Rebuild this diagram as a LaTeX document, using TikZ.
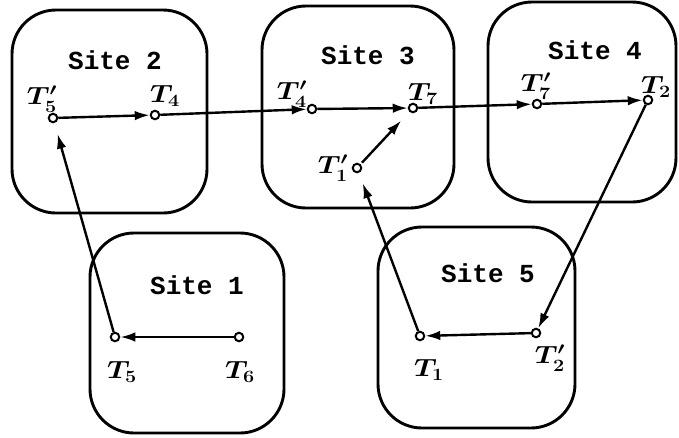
\documentclass[tikz,border=0pt]{standalone}
\usepackage{graphicx}
\usepackage{fontspec}
\newfontfamily\sitefont{Liberation Mono}
\usetikzlibrary{arrows.meta}
\newcommand\wlab[1]{\scalebox{1.15}[1]{#1}}
\tikzset{
  site/.style={draw, line width=2.9pt, rounded corners=44pt, inner sep=0pt},
  tpt/.style={draw, circle, line width=2pt, inner sep=0pt, minimum size=8.5pt, fill=white},
  lab/.style={inner sep=0pt, font=\fontsize{26}{30}\selectfont\boldmath},
  sname/.style={inner sep=0pt, font=\sitefont\bfseries\fontsize{26}{30}\selectfont},
  arr/.style={line width=2.4pt, -{Latex[length=15pt,width=9.5pt]}},
}
\begin{document}
\begin{tikzpicture}[x=1pt,y=-1pt]
\useasboundingbox (0,0) rectangle (679,437);
% sites
\node[site, minimum width=195pt, minimum height=203pt] (s2) at (109.5,111.5) {};
\node[site, minimum width=192pt, minimum height=202pt] (s3) at (358,107) {};
\node[site, minimum width=188pt, minimum height=200pt] (s4) at (582,102) {};
\node[site, minimum width=194pt, minimum height=200pt] (s1) at (187,333) {};
\node[site, minimum width=197pt, minimum height=201pt] (s5) at (476.5,327.5) {};
% site names
\node[sname] (n2) at (115,60) {Site 2};
\node[sname] (n3) at (368,55) {Site 3};
\node[sname] (n4) at (595,50) {Site 4};
\node[sname] (n1) at (197,285) {Site 1};
\node[sname] (n5) at (488,273) {Site 5};
% points
\node[tpt] (t5p) at (53,118) {};
\node[tpt] (t4) at (155,115) {};
\node[tpt] (t4p) at (312,109) {};
\node[tpt] (t7) at (413,108) {};
\node[tpt] (t1p) at (357,168) {};
\node[tpt] (t7p) at (537,104) {};
\node[tpt] (t2) at (648,100) {};
\node[tpt] (t5) at (115,337) {};
\node[tpt] (t6) at (239,337) {};
\node[tpt] (t1) at (420,336) {};
\node[tpt] (t2p) at (536,333) {};
% labels
\node[lab] (lt5p) at (42,99) {\wlab{$T_5'$}};
\node[lab] (lt4) at (165,96) {\wlab{$T_4$}};
\node[lab] (lt4p) at (292,94) {\wlab{$T_4'$}};
\node[lab] (lt7) at (423,94) {\wlab{$T_7$}};
\node[lab] (lt1p) at (333,168) {\wlab{$T_1'$}};
\node[lab] (lt7p) at (536,86) {\wlab{$T_7'$}};
\node[lab] (lt2) at (656,87) {\wlab{$T_2$}};
\node[lab] (lt5) at (122,372) {\wlab{$T_5$}};
\node[lab] (lt6) at (240,372) {\wlab{$T_6$}};
\node[lab] (lt1) at (429,370) {\wlab{$T_1$}};
\node[lab] (lt2p) at (550,358) {\wlab{$T_2'$}};
% connectors
\draw[arr] (t5p) -- (t4);
\draw[arr] (t4) -- (t4p);
\draw[arr] (t4p) -- (t7);
\draw[arr] (t7) -- (t7p);
\draw[arr] (t7p) -- (t2);
\draw[arr, shorten <=2pt, shorten >=12pt] (t1p) -- (t7);
\draw[arr] (t2) -- (t2p);
\draw[arr] (t2p) -- (t1);
\draw[arr] (t6) -- (t5);
\draw[arr, shorten >=11pt] (t5) -- (t5p);
\draw[arr, shorten >=11pt] (t1) -- (t1p);
\end{tikzpicture}
\end{document}
